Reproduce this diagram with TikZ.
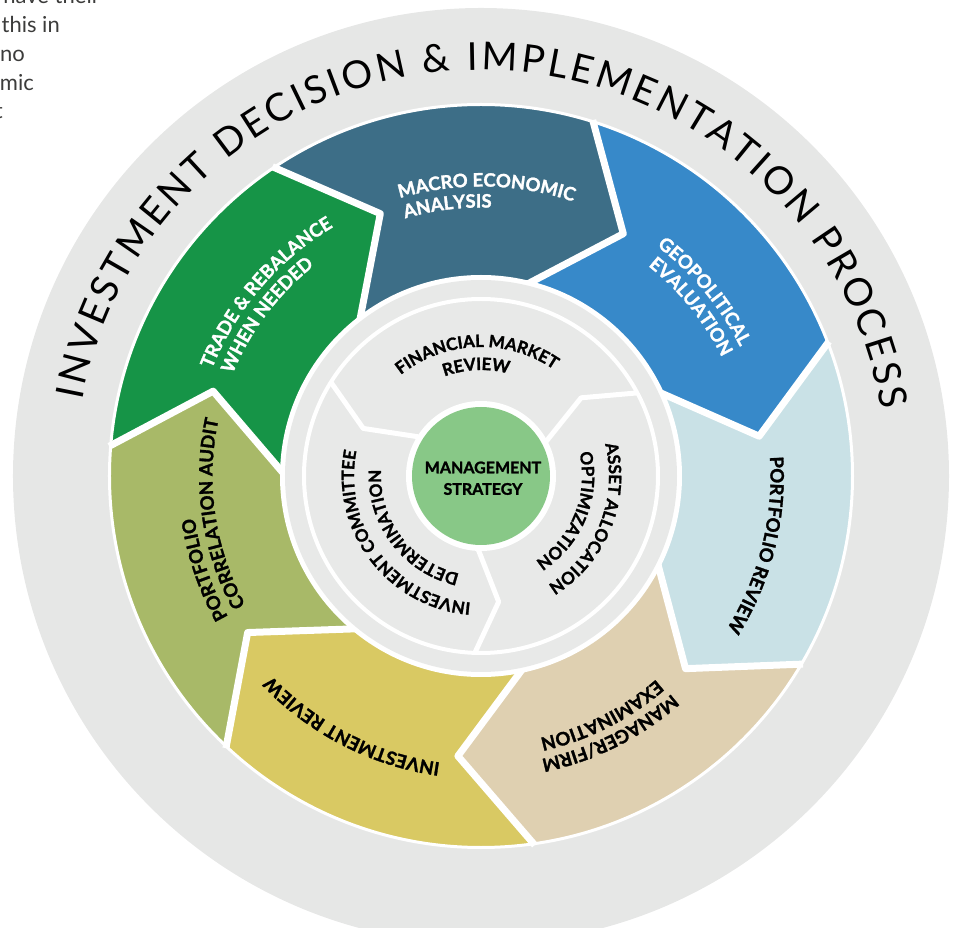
\documentclass[tikz,border=0pt]{standalone}
\usepackage{fontspec}
\setmainfont{Lato}
\newfontfamily\lblfont{Lato}[BoldFeatures={FakeBold=1.5}]
\usetikzlibrary{decorations.text}
\definecolor{ringgrey}{HTML}{E6E7E6}
\definecolor{innergrey}{HTML}{E8E9E8}
\definecolor{cmacro}{HTML}{3D6E87}
\definecolor{cgeo}{HTML}{3789C9}
\definecolor{cportrev}{HTML}{C9E1E6}
\definecolor{cmanager}{HTML}{DFD0B1}
\definecolor{cinvrev}{HTML}{D9C963}
\definecolor{cportcorr}{HTML}{A8B968}
\definecolor{ctrade}{HTML}{169447}
\definecolor{cmgmt}{HTML}{88C887}
\definecolor{pagetext}{HTML}{3C3C3B}
\newcommand\fmtwhite{\color{white}\lblfont\fontsize{18.5}{18.5}\selectfont\bfseries}
\newcommand\fmtblack{\color{black}\lblfont\fontsize{18.5}{18.5}\selectfont\bfseries}
\newcommand\fmtinner{\color{black}\lblfont\fontsize{17}{17}\selectfont\bfseries}
\newcommand\curvelbl[6]{%
  \path[decorate,decoration={text along path,text align=#4,text={|#5|#6}}]
    (#2:#1) arc[start angle=#2,end angle=#3,radius=#1];}
\begin{document}
\begin{tikzpicture}[x=1pt,y=1pt,
  segline/.style={white,line width=7,line join=round},
  innerline/.style={white,line width=5,line join=round},
  pagetxt/.style={anchor=base east,inner sep=0,text=pagetext,font=\fontsize{22}{22}\selectfont}]
\useasboundingbox (-481,-452) rectangle (480,476);
% outer grey ring
\fill[ringgrey] (0,0) circle[radius=468];
% coloured chevron segments
\foreach \j/\col in {0/cmacro,1/cgeo,2/cportrev,3/cmanager,4/cinvrev,5/cportcorr,6/ctrade}{
  \pgfmathsetmacro\sgOa{124-51.4286*\j}
  \pgfmathsetmacro\sgOb{\sgOa-51.4286}
  \pgfmathsetmacro\sgTa{\sgOa-13}
  \pgfmathsetmacro\sgTb{\sgOb-13}
  \pgfmathsetmacro\sgIa{\sgOa+4}
  \pgfmathsetmacro\sgIb{\sgOb+4}
  \fill[\col] (\sgOa:372) arc[start angle=\sgOa,end angle=\sgOb,radius=372]
    -- (\sgTb:281) -- (\sgIb:197) arc[start angle=\sgIb,end angle=\sgIa,radius=197]
    -- (\sgTa:281) -- cycle;
}
\foreach \j in {0,...,6}{
  \pgfmathsetmacro\bdO{124-51.4286*\j}
  \draw[segline] (\bdO:373) -- ({\bdO-13}:281) -- ({\bdO+4}:197);
}
\draw[white,line width=3] (0,0) circle[radius=371.5];
% inner disk
\fill[white] (0,0) circle[radius=201];
\fill[innergrey] (0,0) circle[radius=196];
\draw[white,line width=4] (0,0) circle[radius=177];
\foreach \a in {148,28,-92}{
  \draw[innerline] (\a:177) -- ({\a+10}:127) -- (\a:74);
}
\fill[white] (0,0) circle[radius=75];
\fill[cmgmt] (0,0) circle[radius=69];
\node[align=center,font=\lblfont\fontsize{16}{21.5}\selectfont\bfseries,inner sep=0] (mgmt) at (2,-2.25) {MANAGEMENT\\STRATEGY};
% outer segment labels
\curvelbl{289.5}{106.3}{40}{left}{\fmtwhite}{MACRO ECONOMIC}
\curvelbl{268.5}{106.4}{40}{left}{\fmtwhite}{ANALYSIS}
\curvelbl{289.5}{52.6}{-10}{left}{\fmtwhite}{GEOPOLITICAL}
\curvelbl{268.5}{51.5}{-10}{left}{\fmtwhite}{EVALUATION}
\curvelbl{289.5}{3.8}{-60}{left}{\fmtblack}{PORTFOLIO REVIEW}
\curvelbl{289.5}{-48.8}{-110}{left}{\fmtblack}{MANAGER/FIRM}
\curvelbl{268.5}{-49.2}{-110}{left}{\fmtblack}{EXAMINATION}
\curvelbl{289.5}{-98.1}{-160}{left}{\fmtblack}{INVESTMENT REVIEW}
\curvelbl{289.5}{-150.9}{-215}{left}{\fmtblack}{PORTFOLIO}
\curvelbl{268.5}{-151.3}{-215}{left}{\fmtblack}{CORRELATION AUDIT}
\curvelbl{289.5}{158.3}{95}{left}{\fmtwhite}{TRADE {\&} REBALANCE}
\curvelbl{268.5}{157.7}{95}{left}{\fmtwhite}{WHEN NEEDED}
% inner sector labels
\curvelbl{129}{152}{32}{center}{\fmtinner}{FINANCIAL MARKET}
\curvelbl{106}{152.5}{32.5}{center}{\fmtinner}{REVIEW}
\curvelbl{128}{38}{-82}{center}{\fmtinner}{ASSET ALLOCATION}
\curvelbl{101}{38}{-82}{center}{\fmtinner}{OPTIMIZATION}
\curvelbl{127}{-83}{-203}{center}{\fmtinner}{INVESTMENT COMMITTEE}
\curvelbl{100}{-83}{-203}{center}{\fmtinner}{DETERMINATION}
% title
\path[decorate,decoration={text along path,text align={fit to path},
  text={|\fontsize{38.5}{38.5}\selectfont|INVESTMENT DECISION {\&} IMPLEMENTATION PROCESS}}]
  (169.3:406) arc[start angle=169.3,end angle=9.4,radius=406];
% clipped page text at top left
\node[pagetxt] (p1) at (-381,472) {have their};
\node[pagetxt] (p2) at (-421,443.5) {this in};
\node[pagetxt] (p3) at (-456,414.5) {no};
\node[pagetxt] (p4) at (-447,385.5) {mic};
\node[pagetxt] (p5) at (-478,357.5) {t};
\end{tikzpicture}
\end{document}
